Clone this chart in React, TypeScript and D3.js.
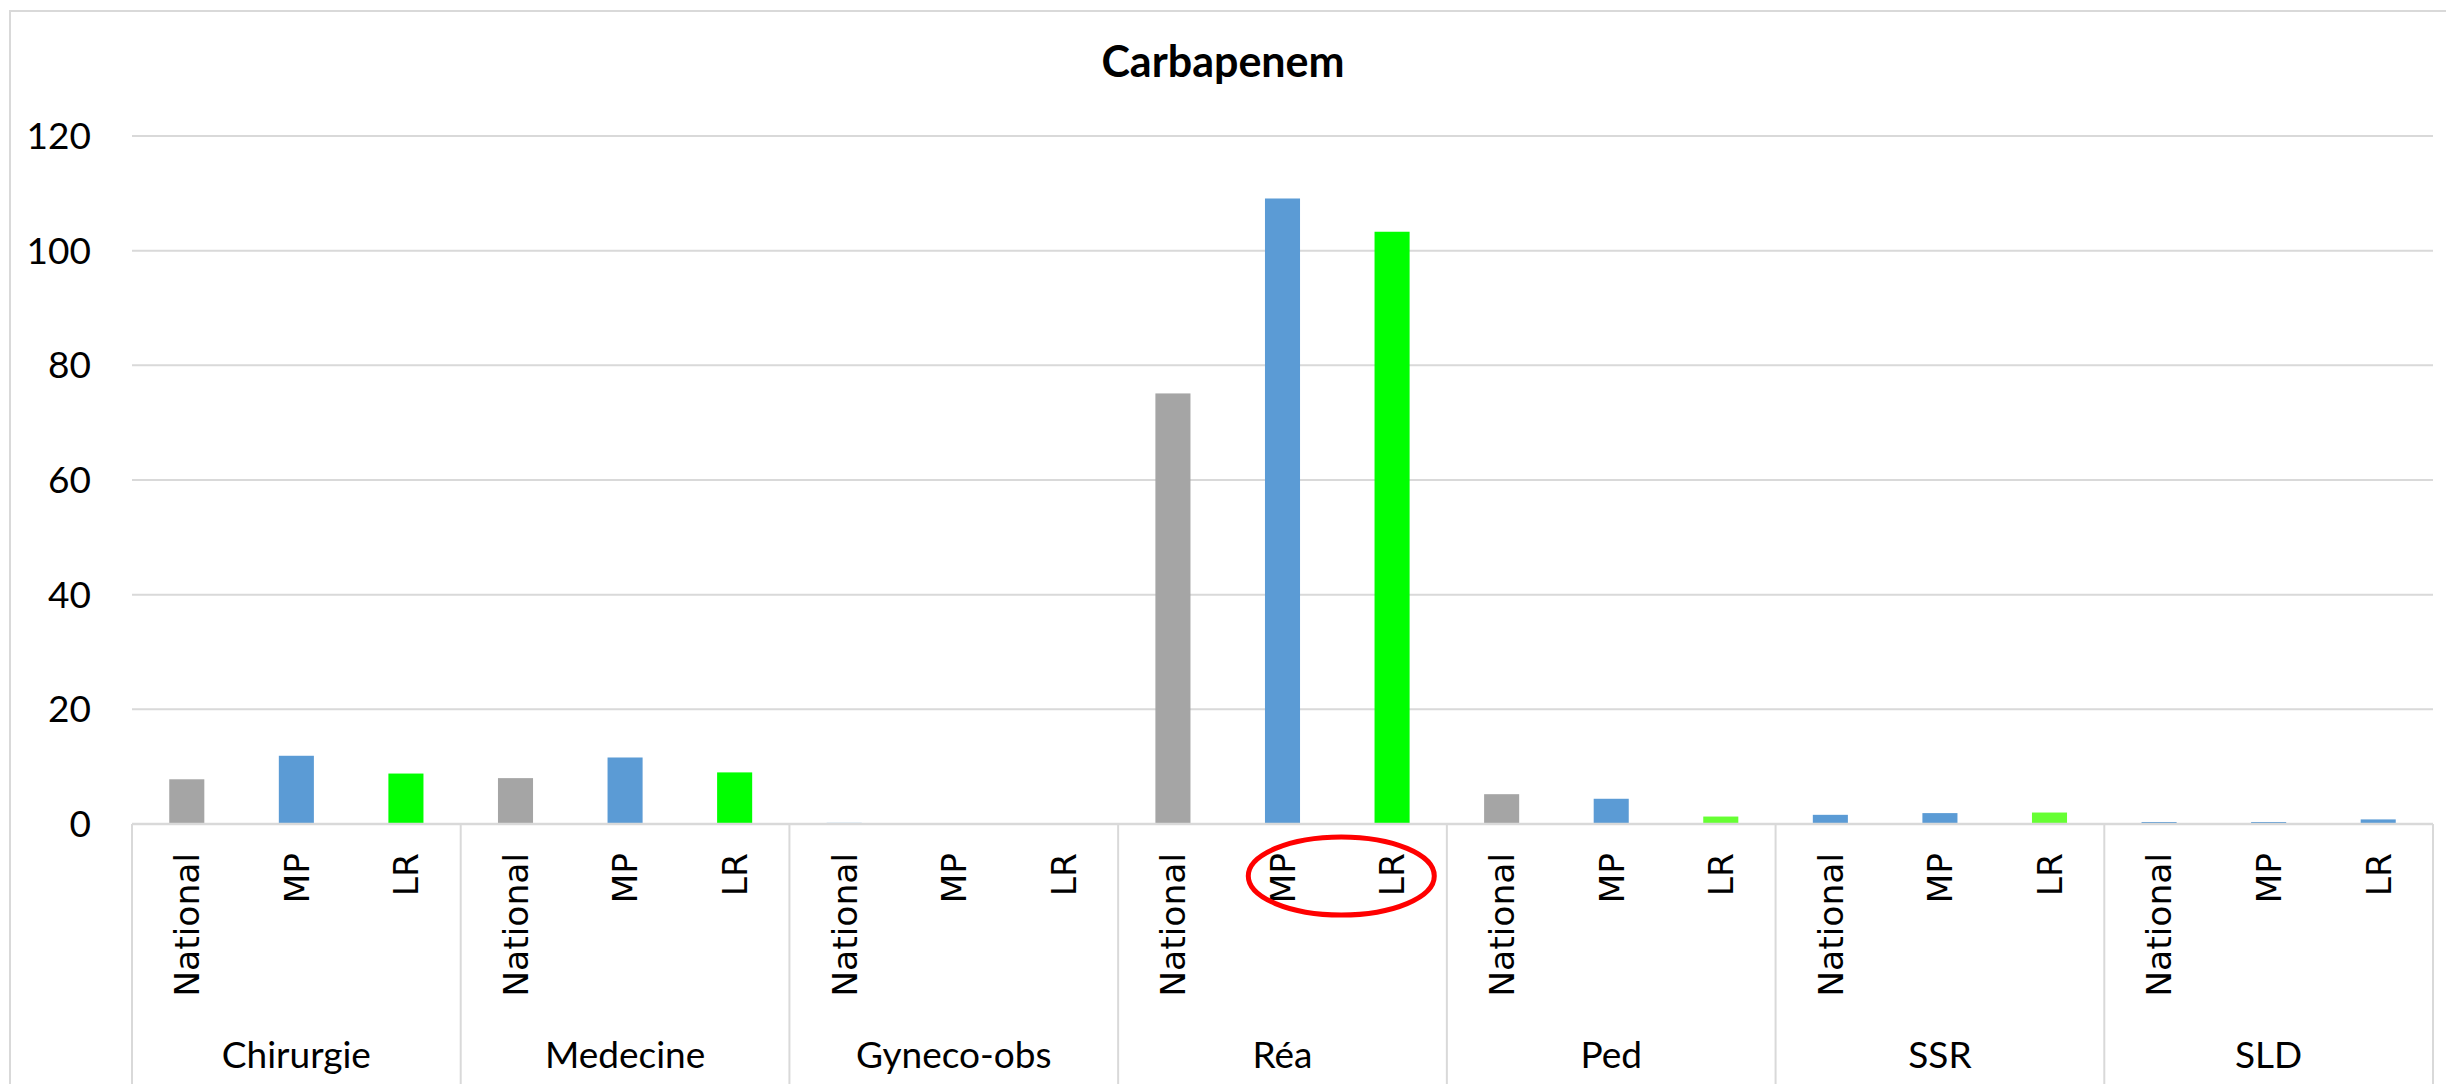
import React from "react";
import * as d3 from "d3";

const title = "Carbapenem";
const groups = ["Chirurgie", "Medecine", "Gyneco-obs", "Réa", "Ped", "SSR", "SLD"];
const subCategories = ["National", "MP", "LR"];
const nationalValues = [7.8, 8.0, 0.2, 75.1, 5.2, 1.6, 0.35];
const mpValues = [11.9, 11.6, 0, 109.1, 4.4, 1.9, 0.35];
const lrValues = [8.8, 9.0, 0, 103.3, 1.3, 2.0, 0.8];
const yTicks = [0, 20, 40, 60, 80, 100, 120];

const GRAY = "#A5A5A5";
const BLUE = "#5B9BD5";
const GREEN = "#00FF00";
const LIGHTGREEN = "#66FF33";
const pointColors = [
  [GRAY, BLUE, GREEN],
  [GRAY, BLUE, GREEN],
  [BLUE, BLUE, GREEN],
  [GRAY, BLUE, GREEN],
  [GRAY, BLUE, LIGHTGREEN],
  [BLUE, BLUE, LIGHTGREEN],
  [BLUE, BLUE, BLUE],
];

const W = 2446;
const H = 1084;
const plotLeft = 132;
const plotRight = 2433;
const yTopPx = 136;
const yZeroPx = 824;
const LINE = "#D9D9D9";

export default function App() {
  const seriesValues = [nationalValues, mpValues, lrValues];
  const flat = groups.flatMap((g, gi) =>
    subCategories.map((s, si) => ({
      key: `${g}|${s}`,
      group: g,
      gi,
      sub: s,
      si,
      value: seriesValues[si][gi],
      color: pointColors[gi][si],
    }))
  );

  const x = d3
    .scaleBand<string>()
    .domain(flat.map((d) => d.key))
    .range([plotLeft, plotRight])
    .paddingInner(0.68)
    .paddingOuter(0.34);

  const groupX = d3
    .scaleBand<string>()
    .domain(groups)
    .range([plotLeft, plotRight]);

  const y = d3.scaleLinear().domain([0, 120]).range([yZeroPx, yTopPx]);

  const step = x.step();

  return (
    <div style={{ position: "absolute", left: 0, top: 0 }}>
      <svg width={W} height={H} style={{ display: "block", background: "#fff" }}>
        <rect x={0} y={0} width={W} height={H} fill="#fff" />
        {/* outer chart border */}
        <rect x={10} y={11} width={W + 20} height={H + 20} fill="none" stroke={LINE} strokeWidth={2} />
        {/* title */}
        <text
          x={1223}
          y={77}
          textAnchor="middle"
          fontFamily="Lato, 'Open Sans', sans-serif"
          fontWeight={700}
          fontSize={43}
          fill="#000"
        >
          {title}
        </text>
        {/* gridlines */}
        {yTicks.map((t) => (
          <line
            key={`g${t}`}
            x1={plotLeft}
            x2={plotRight}
            y1={y(t)}
            y2={y(t)}
            stroke={LINE}
            strokeWidth={2}
          />
        ))}
        {/* y tick labels */}
        {yTicks.map((t) => (
          <text
            key={`yt${t}`}
            x={91}
            y={y(t)}
            dy="0.35em"
            textAnchor="end"
            fontFamily="Lato, 'Open Sans', sans-serif"
            fontSize={37}
            fill="#000"
          >
            {t}
          </text>
        ))}
        {/* bars */}
        {flat.map((d) => (
          <rect
            key={d.key}
            x={x(d.key)}
            y={y(d.value)}
            width={x.bandwidth()}
            height={Math.max(0, y(0) - y(d.value))}
            fill={d.color}
          />
        ))}
        {/* axis line */}
        <line x1={plotLeft} x2={plotRight} y1={y(0)} y2={y(0)} stroke={LINE} strokeWidth={2.5} />
        {/* group separators */}
        {groups.map((g) => (
          <line
            key={`sep${g}`}
            x1={groupX(g)}
            x2={groupX(g)}
            y1={y(0)}
            y2={H}
            stroke={LINE}
            strokeWidth={2}
          />
        ))}
        <line x1={plotRight} x2={plotRight} y1={y(0)} y2={H} stroke={LINE} strokeWidth={2} />
        {/* sub-category labels */}
        {flat.map((d) => {
          const cx = (x(d.key) ?? 0) + x.bandwidth() / 2;
          const ty = 853;
          return (
            <text
              key={`lbl${d.key}`}
              transform={`translate(${cx},${ty}) rotate(-90)`}
              textAnchor="end"
              dy="0.36em"
              fontFamily="'DejaVu Sans', Verdana, sans-serif"
              fontSize={34.5}
              fill="#000"
            >
              {d.sub}
            </text>
          );
        })}
        {/* group labels */}
        {groups.map((g) => (
          <text
            key={`gl${g}`}
            x={(groupX(g) ?? 0) + groupX.bandwidth() / 2}
            y={1068}
            textAnchor="middle"
            fontFamily="Lato, 'Open Sans', sans-serif"
            fontSize={37}
            fill="#000"
          >
            {g}
          </text>
        ))}
        {/* red annotation ellipse */}
        <ellipse
          cx={(x("Réa|MP") ?? 0) + x.bandwidth() / 2 + step / 2 + 4}
          cy={876}
          rx={93}
          ry={39}
          fill="none"
          stroke="#FF0000"
          strokeWidth={5}
        />
      </svg>
    </div>
  );
}
